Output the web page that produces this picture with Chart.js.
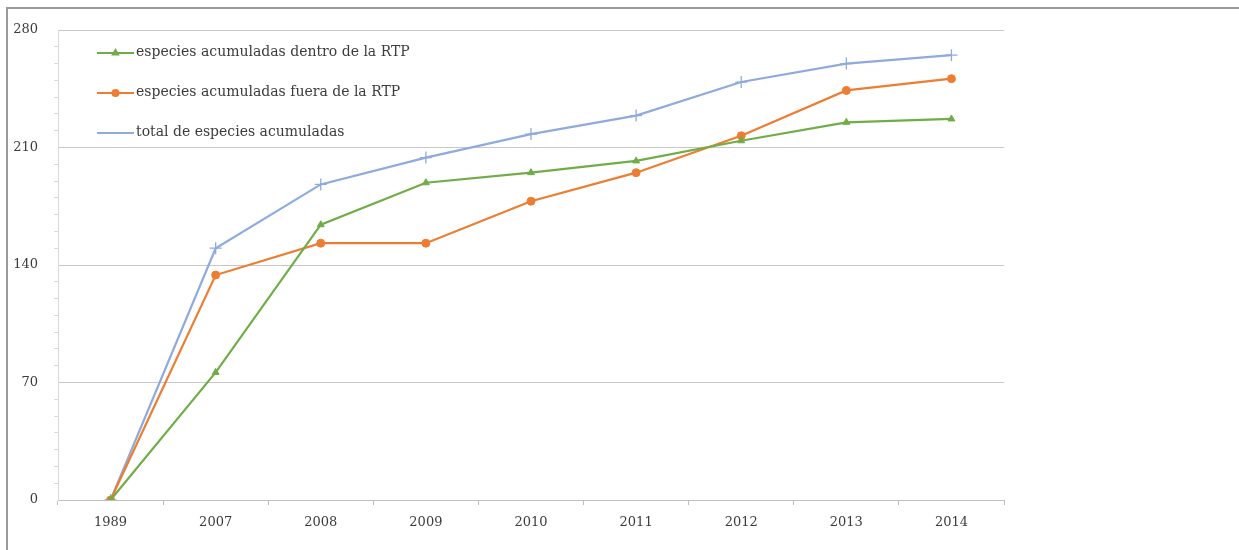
<!DOCTYPE html>
<html>
<head>
<meta charset="utf-8">
<script src="https://cdn.jsdelivr.net/npm/chart.js@4"></script>
<style>
  html, body { margin: 0; padding: 0; background: #fff; }
  #wrap { position: relative; width: 1239px; height: 550px; }
  #frame {
    position: absolute; left: 6px; top: 7px; right: 0; bottom: 0;
    border-top: 2px solid #9a9a9a; border-left: 2px solid #9a9a9a;
    pointer-events: none;
  }
  canvas { position: absolute; left: 0; top: 0; }
</style>
</head>
<body>
<div id="wrap">
  <canvas id="speciesChart" width="1239" height="550"></canvas>
  <div id="frame"></div>
</div>
<script>
// Years on the category axis
const years = ['1989', '2007', '2008', '2009', '2010', '2011', '2012', '2013', '2014'];

// Accumulated species counts
const insideRTP = [0, 76, 164, 189, 195, 202, 214, 225, 227];
const outsideRTP = [0, 134, 153, 153, 178, 195, 217, 244, 251];
const totalSpecies = [0, 150, 188, 204, 218, 229, 249, 260, 265];

const seriesLabels = [
  'especies acumuladas dentro de la RTP',
  'especies acumuladas fuera de la RTP',
  'total de especies acumuladas'
];

const yMax = 280;
const yMajor = 70;

const FONT = '"DejaVu Serif", "Liberation Serif", serif';
const TEXT = '#3c3c3c';

// Legend drawn inside the plot, upper-left corner
const innerLegend = {
  id: 'innerLegend',
  afterDraw(chart) {
    const ctx = chart.ctx;
    const x0 = 97, x1 = 134, top = 53, gap = 40;
    ctx.save();
    chart.data.datasets.forEach((ds, i) => {
      const y = top + i * gap;
      ctx.strokeStyle = ds.borderColor;
      ctx.lineWidth = 2;
      ctx.beginPath();
      ctx.moveTo(x0, y);
      ctx.lineTo(x1, y);
      ctx.stroke();
      if (ds.pointStyle !== 'cross') {
        ctx.fillStyle = ds.borderColor;
        ctx.strokeStyle = ds.borderColor;
        Chart.helpers.drawPoint(ctx, {
          pointStyle: ds.pointStyle, radius: 3, rotation: 0, borderWidth: 1
        }, (x0 + x1) / 2, y);
      }
      ctx.fillStyle = TEXT;
      ctx.font = '14px ' + FONT;
      ctx.textAlign = 'left';
      ctx.textBaseline = 'middle';
      ctx.fillText(ds.label, x1 + 2, y - 1);
    });
    ctx.restore();
  }
};

function makeDataset(label, data, color, style, radius) {
  return {
    label: label,
    data: data,
    borderColor: color,
    backgroundColor: color,
    borderWidth: 2.2,
    pointStyle: style,
    pointRadius: radius,
    pointHoverRadius: radius,
    pointBorderWidth: style === 'cross' ? 1.3 : 1,
    tension: 0
  };
}

function createChart() {
  const ctx = document.getElementById('speciesChart').getContext('2d');
  return new Chart(ctx, {
    type: 'line',
    data: {
      labels: years,
      datasets: [
        makeDataset(seriesLabels[0], insideRTP, '#70ad47', 'triangle', 4),
        makeDataset(seriesLabels[1], outsideRTP, '#ed7d31', 'circle', 4),
        makeDataset(seriesLabels[2], totalSpecies, '#8faadc', 'cross', 6)
      ]
    },
    options: {
      responsive: false,
      animation: false,
      layout: { padding: { left: 8, right: 235, top: 30, bottom: 0 } },
      plugins: {
        legend: { display: false },
        tooltip: { enabled: false }
      },
      scales: {
        x: {
          offset: true,
          afterFit: (s) => { s.height = 50; },
          grid: {
            offset: true,
            drawOnChartArea: false,
            color: '#bfbfbf',
            tickLength: 5
          },
          border: { display: true, color: '#bfbfbf', width: 1 },
          ticks: {
            color: TEXT,
            padding: 10,
            font: { family: FONT, size: 13 }
          }
        },
        y: {
          min: 0,
          max: yMax,
          afterFit: (s) => { s.width = 50; },
          grid: {
            color: (c) => (c.tick && c.tick.value % yMajor === 0) ? '#c8c8c8' : 'rgba(0,0,0,0)',
            tickColor: (c) => (c.tick && c.tick.value % yMajor === 0) ? 'rgba(0,0,0,0)' : '#d9d9d9',
            tickLength: 4
          },
          border: { display: true, color: '#d9d9d9', width: 1 },
          ticks: {
            stepSize: 10,
            autoSkip: false,
            padding: 16,
            color: TEXT,
            font: { family: FONT, size: 13 },
            callback: (v) => (v % yMajor === 0 ? v : '')
          }
        }
      }
    },
    plugins: [innerLegend]
  });
}

document.addEventListener('DOMContentLoaded', createChart);
</script>
</body>
</html>
